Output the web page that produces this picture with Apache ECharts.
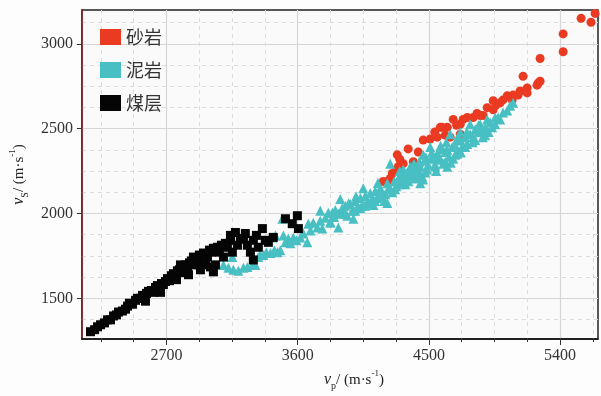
<!DOCTYPE html>
<html>
<head>
<meta charset="utf-8">
<style>
  html, body { margin: 0; padding: 0; background: #fdfdfd; }
  #chart { width: 601px; height: 396px; }
</style>
<script src="https://cdn.jsdelivr.net/npm/echarts@6/dist/echarts.min.js"></script>
</head>
<body>
<div id="chart"></div>
<script>
const seriesNames = ['砂岩', '泥岩', '煤层'];

const xTicks = [2700, 3600, 4500, 5400];
const xMinor = [2250, 2475, 2925, 3150, 3375, 3825, 4050, 4275, 4725, 4950, 5175, 5625];
const yTicks = [1500, 2000, 2500, 3000];
const yMinor = [1375, 1625, 1750, 1875, 2125, 2250, 2375, 2625, 2750, 2875, 3125];

// vp, vs pairs (m/s)
const sandstone = [
  [4187, 2189], [4215, 2189], [4235, 2207], [4249, 2236], [4269, 2247], [4283, 2259], [4290, 2276],
  [4283, 2346], [4324, 2294], [4358, 2381], [4393, 2305], [4427, 2363], [4461, 2433], [4509, 2439],
  [4557, 2450], [4578, 2508], [4612, 2462], [4591, 2508], [4626, 2508], [4646, 2450], [4715, 2468],
  [4715, 2526], [4735, 2555], [4763, 2566], [4804, 2566], [4852, 2578], [4872, 2578], [4900, 2624],
  [4941, 2612], [4941, 2665], [4989, 2653], [5009, 2670], [5037, 2694], [5071, 2670], [5078, 2699],
  [5112, 2699], [5126, 2723], [5174, 2740], [5174, 2711], [5146, 2809], [5242, 2757], [5263, 2780],
  [5249, 2769], [5263, 2914], [5421, 2954], [5421, 3059], [5544, 3151], [5612, 3128], [5640, 3180],
  [4667, 2555], [4300, 2320], [4540, 2480], [4690, 2520], [4830, 2590], [4960, 2640]
];

const mudstone = [
  [3091, 1697], [3125, 1680], [3159, 1668], [3193, 1662], [3228, 1680], [3255, 1685], [3289, 1697],
  [3310, 1697], [3330, 1743], [3344, 1755], [3365, 1755], [3385, 1772], [3413, 1767], [3440, 1784],
  [3461, 1772], [3481, 1784], [3502, 1871], [3495, 1969], [3516, 1830], [3536, 1853], [3550, 1824],
  [3570, 1859], [3591, 1842], [3618, 1859], [3639, 1882], [3666, 1830], [3687, 1900], [3707, 1946],
  [3735, 1917], [3755, 2016], [3769, 1911], [3755, 1958], [3790, 1975], [3810, 2004], [3824, 1952],
  [3838, 2004], [3858, 2021], [3879, 1917], [3879, 1998], [3892, 2085], [3906, 2033], [3927, 2045],
  [3940, 1987], [3961, 2056], [3975, 2016], [3995, 2074], [4009, 2033], [4030, 2091], [4043, 2045],
  [4050, 2149], [4064, 2103], [4077, 2062], [4098, 2120], [4112, 2085], [4132, 2132], [4146, 2091],
  [4167, 2149], [4180, 2114], [4194, 2074], [4215, 2178], [4221, 2143], [4235, 2294], [4249, 2126],
  [4262, 2189], [4276, 2161], [4290, 2207], [4304, 2172], [4317, 2230], [4324, 2259], [4338, 2201],
  [4352, 2242], [4365, 2218], [4372, 2276], [4386, 2242], [4393, 2288], [4406, 2265], [4420, 2230],
  [4434, 2305], [4441, 2276], [4454, 2218], [4461, 2346], [4475, 2311], [4489, 2259], [4495, 2288],
  [4509, 2392], [4516, 2323], [4530, 2334], [4543, 2288], [4557, 2352], [4578, 2323], [4591, 2381],
  [4598, 2294], [4612, 2363], [4626, 2375], [4639, 2334], [4646, 2468], [4660, 2392], [4667, 2323],
  [4680, 2404], [4694, 2352], [4715, 2479], [4715, 2433], [4728, 2392], [4749, 2450], [4763, 2410],
  [4783, 2526], [4783, 2468], [4804, 2450], [4818, 2497], [4838, 2479], [4852, 2526], [4865, 2497],
  [4886, 2462], [4900, 2555], [4920, 2537], [4934, 2508], [4955, 2566], [4975, 2566], [4989, 2555],
  [5009, 2595], [5037, 2607], [5057, 2636], [5078, 2653], [3824, 1946], [3982, 1969], [4215, 2062],
  [4441, 2178], [4626, 2276], [3426, 1859], [3447, 1871], [3673, 1940], [3152, 1743],
  [3927, 1998], [3995, 2016], [4064, 2045], [4132, 2074], [4201, 2114], [4269, 2143], [4338, 2172],
  [4406, 2207], [4475, 2242], [4543, 2276], [4612, 2305], [4680, 2346], [4749, 2392], [4818, 2433],
  [4886, 2508], [4955, 2526], [4030, 2033], [4098, 2062], [4167, 2103], [4235, 2143], [4304, 2218],
  [4372, 2230], [4557, 2317], [4701, 2450],
  [4300, 2250], [4330, 2180], [4360, 2190], [4400, 2290], [4430, 2250], [4460, 2200], [4480, 2330],
  [4520, 2360], [4550, 2250], [4580, 2400], [4620, 2420], [4650, 2300], [4690, 2430], [4720, 2360],
  [4760, 2480], [4800, 2420], [4840, 2520], [4870, 2450], [4910, 2480], [4150, 2180], [4120, 2050],
  [4000, 2100], [3950, 2060], [3900, 2000], [3850, 1980]
];

const coal = [
  [2179, 1303], [2207, 1315], [2227, 1332], [2248, 1344], [2275, 1355], [2296, 1373], [2316, 1373],
  [2337, 1396], [2357, 1402], [2371, 1419], [2398, 1425], [2419, 1436], [2433, 1454], [2446, 1471],
  [2467, 1465], [2488, 1488], [2501, 1500], [2522, 1500], [2536, 1517], [2549, 1506], [2563, 1529],
  [2577, 1541], [2597, 1546], [2611, 1535], [2625, 1564], [2638, 1575], [2652, 1558], [2666, 1587],
  [2679, 1581], [2693, 1599], [2707, 1616], [2721, 1604], [2734, 1633], [2748, 1645], [2762, 1627],
  [2775, 1662], [2789, 1668], [2803, 1651], [2817, 1685], [2830, 1697], [2844, 1680], [2858, 1709],
  [2871, 1720], [2885, 1743], [2899, 1703], [2912, 1738], [2926, 1755], [2940, 1726], [2954, 1767],
  [2967, 1755], [2981, 1743], [2995, 1784], [3008, 1772], [3022, 1795], [3036, 1697], [3050, 1801],
  [3063, 1772], [3077, 1813], [3091, 1743], [3104, 1824], [3118, 1801], [3139, 1842], [3152, 1772],
  [3173, 1888], [3187, 1813], [3207, 1848], [3228, 1853], [3255, 1813], [3276, 1772], [3296, 1842],
  [3317, 1871], [3358, 1911], [3378, 1842], [3399, 1830], [3296, 1726], [3433, 1859], [3516, 1969],
  [3563, 1940], [3598, 1987], [3605, 1911], [3022, 1656], [2954, 1697], [2885, 1697], [2796, 1697],
  [2769, 1610], [2659, 1535], [2556, 1483], [3139, 1871], [3241, 1882], [3330, 1801], [2967, 1709],
  [3002, 1685], [2933, 1668], [2851, 1639]
];

const chart = echarts.init(document.getElementById('chart'));
const serif = 'Liberation Serif, DejaVu Serif, serif';
const plain = v => String(v);
const nameRich = {
  i: { fontFamily: serif, fontStyle: 'italic', fontSize: 16, color: '#222', lineHeight: 22 },
  sub: { fontFamily: serif, fontSize: 10, color: '#222', lineHeight: 22, verticalAlign: 'bottom' },
  t: { fontFamily: serif, fontSize: 15, color: '#222', lineHeight: 22 },
  sup: { fontFamily: serif, fontSize: 9, color: '#222', lineHeight: 22, verticalAlign: 'top' }
};

const option = {
  backgroundColor: '#fdfdfd',
  animation: false,
  grid: {
    left: 81, right: 3, top: 10, bottom: 51,
    show: true, backgroundColor: '#fafafa', borderColor: '#222', borderWidth: 1.5
  },
  legend: {
    orient: 'vertical',
    left: 100,
    top: 28,
    padding: 0,
    itemWidth: 21,
    itemHeight: 16,
    itemGap: 15,
    icon: 'rect',
    textStyle: { fontFamily: 'Noto Sans CJK SC', fontSize: 18, color: '#333' },
    data: seriesNames
  },
  xAxis: [
    {
      type: 'value', min: 2120, max: 5660, position: 'bottom',
      name: '{i|v}{sub|p}{t|/ (m·s}{sup|-1}{t|)}',
      nameLocation: 'middle',
      nameGap: 30,
      nameTextStyle: { rich: nameRich, padding: [0, 0, 0, 28] },
      axisLine: { onZero: false, lineStyle: { color: '#111', width: 1.5 } },
      axisTick: { customValues: xTicks, length: 6, lineStyle: { color: '#333' } },
      axisLabel: { customValues: xTicks, formatter: plain, margin: 9, fontFamily: serif, fontSize: 16, color: '#333' },
      splitLine: { show: true, lineStyle: { color: '#d6d6d6', width: 1.2 } }
    },
    {
      type: 'value', min: 2120, max: 5660, position: 'bottom',
      axisLine: { show: false },
      axisTick: { customValues: xMinor, length: 3, lineStyle: { color: '#333' } },
      axisLabel: { show: false },
      splitLine: { show: true, lineStyle: { color: '#dcdcdc', type: [4, 4] } }
    }
  ],
  yAxis: [
    {
      type: 'value', min: 1260, max: 3200, position: 'left',
      name: '{i|v}{sub|S}{t|/ (m·s}{sup|-1}{t|)}',
      nameLocation: 'middle',
      nameGap: 43,
      nameTextStyle: { rich: nameRich },
      axisLine: { show: true, onZero: false, lineStyle: { color: '#8b2020', width: 1.5 } },
      axisTick: { show: true, customValues: yTicks, length: 5, lineStyle: { color: '#333' } },
      axisLabel: { customValues: yTicks, formatter: plain, margin: 9, fontFamily: serif, fontSize: 16, color: '#333' },
      splitLine: { show: true, lineStyle: { color: '#d6d6d6', width: 1.2 } }
    },
    {
      type: 'value', min: 1260, max: 3200, position: 'left',
      axisLine: { show: false },
      axisTick: { show: false, customValues: yMinor },
      axisLabel: { show: false },
      splitLine: { show: true, lineStyle: { color: '#dcdcdc', type: [4, 4] } }
    }
  ],
  series: [
    {
      name: '砂岩', type: 'scatter', symbol: 'circle', symbolSize: 9,
      itemStyle: { color: '#ea3b22', opacity: 1 },
      data: sandstone
    },
    {
      name: '泥岩', type: 'scatter', symbol: 'triangle', symbolSize: 10,
      itemStyle: { color: '#48bfc2', opacity: 1 },
      data: mudstone
    },
    {
      name: '煤层', type: 'scatter', symbol: 'rect', symbolSize: 9,
      itemStyle: { color: '#050505', opacity: 1 },
      data: coal
    }
  ]
};

chart.setOption(option);
</script>
</body>
</html>
